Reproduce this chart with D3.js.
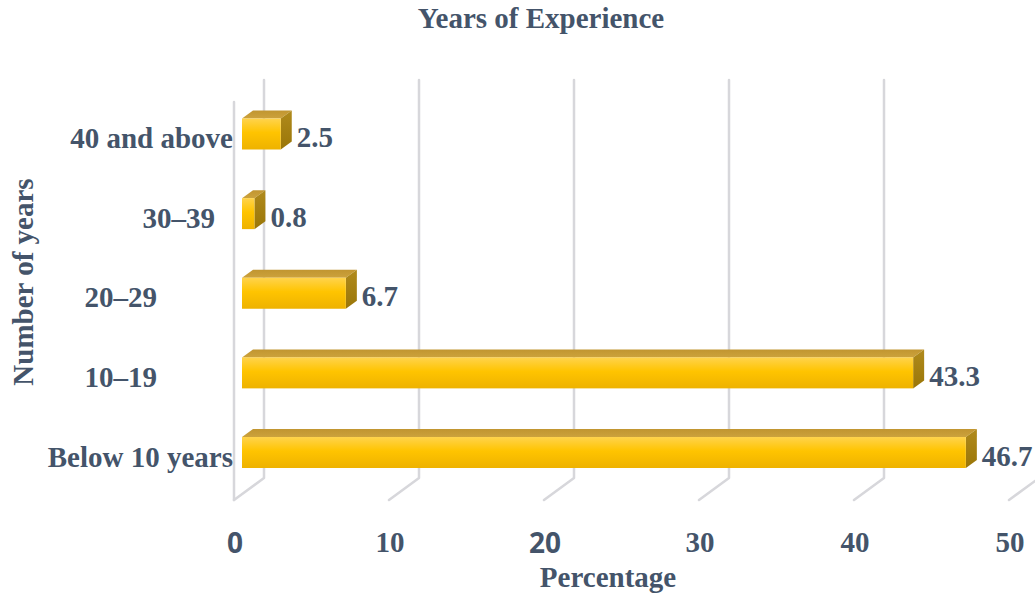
<!DOCTYPE html>
<html>
<head>
<meta charset="utf-8">
<script src="https://cdn.jsdelivr.net/npm/d3@7"></script>
<style>
  html, body { margin: 0; padding: 0; background: #fff; }
  svg { display: block; }
</style>
</head>
<body>
<svg id="chart" width="1035" height="599"></svg>
<script>
// Years of experience, share of respondents (%)
const categories = ["Below 10 years", "10–19", "20–29", "30–39", "40 and above"];
const percentages = [46.7, 43.3, 6.7, 0.8, 2.5];
const tickValues = [0, 10, 20, 30, 40, 50];
const tickLabels = ["0", "10", "20", "30", "40", "50"];

// Right edge of each category label (same order as categories)
const labelRightEdge = [233, 157, 157, 215, 233];
// Tick labels set in the sans face
const sansTicks = new Set([0, 20]);

const TEXT = "#44546a";
const SERIF = "'Liberation Serif', 'Times New Roman', serif";
const SANS = "'Open Sans', 'Noto Sans', sans-serif";

const svg = d3.select("#chart");

// Oblique projection: back wall is shifted right/up from the front plane
const depth = { dx: 30, dy: -22 };
const barDepth = { dx: 11, dy: -8 };
const barInset = 8;

const floorY = 500;     // front edge of the floor
const wallTop = 80;     // top of the back wall

const x = d3.scaleLinear().domain([0, 50]).range([234, 1009]);
const y = d3.scalePoint()
  .domain(categories.slice().reverse())
  .range([134, 452.5]);
const barH = 31;

// ---- gradients
const defs = svg.append("defs");
const gFront = defs.append("linearGradient").attr("id", "barFront")
  .attr("x1", 0).attr("y1", 0).attr("x2", 0).attr("y2", 1);
gFront.append("stop").attr("offset", "0%").attr("stop-color", "#ffd34d");
gFront.append("stop").attr("offset", "45%").attr("stop-color", "#ffc400");
gFront.append("stop").attr("offset", "100%").attr("stop-color", "#eeb200");

const gTop = defs.append("linearGradient").attr("id", "barTop")
  .attr("x1", 0).attr("y1", 0).attr("x2", 0).attr("y2", 1);
gTop.append("stop").attr("offset", "0%").attr("stop-color", "#c19530");
gTop.append("stop").attr("offset", "100%").attr("stop-color", "#cca23c");

const gSide = defs.append("linearGradient").attr("id", "barSide")
  .attr("x1", 0).attr("y1", 0).attr("x2", 0).attr("y2", 1);
gSide.append("stop").attr("offset", "0%").attr("stop-color", "#b08a1c");
gSide.append("stop").attr("offset", "100%").attr("stop-color", "#9a7608");

// ---- walls and gridlines
const grid = svg.append("g")
  .attr("fill", "none")
  .attr("stroke", "#d7d7db")
  .attr("stroke-width", 2.5)
  .attr("stroke-linecap", "round")
  .attr("stroke-linejoin", "round");

grid.selectAll("path.gl")
  .data(tickValues)
  .join("path")
  .attr("class", "gl")
  .attr("d", v => {
    const bx = x(v) + depth.dx;
    const by = floorY + depth.dy;
    return `M${bx},${wallTop}L${bx},${by}L${x(v)},${floorY}`;
  });

// front edge of the side wall
grid.append("path")
  .attr("d", `M${x(0)},${wallTop - depth.dy}L${x(0)},${floorY}`);

// ---- bars
const data = categories.map((c, i) => ({ cat: c, value: percentages[i], right: labelRightEdge[i] }));
const bx = v => x(v) + barInset;

const bars = svg.append("g").selectAll("g.bar")
  .data(data)
  .join("g")
  .attr("class", "bar");

bars.append("path")
  .attr("fill", "url(#barTop)")
  .attr("d", d => {
    const x0 = bx(0), x1 = bx(d.value), yt = y(d.cat) - barH / 2;
    return `M${x0},${yt}L${x0 + barDepth.dx},${yt + barDepth.dy}L${x1 + barDepth.dx},${yt + barDepth.dy}L${x1},${yt}Z`;
  });

bars.append("path")
  .attr("fill", "url(#barSide)")
  .attr("d", d => {
    const x1 = bx(d.value), yt = y(d.cat) - barH / 2, yb = yt + barH;
    return `M${x1},${yt}L${x1 + barDepth.dx},${yt + barDepth.dy}L${x1 + barDepth.dx},${yb + barDepth.dy}L${x1},${yb}Z`;
  });

bars.append("rect")
  .attr("x", bx(0))
  .attr("y", d => y(d.cat) - barH / 2)
  .attr("width", d => bx(d.value) - bx(0))
  .attr("height", barH)
  .attr("fill", "url(#barFront)");

// value labels
bars.append("text")
  .attr("x", d => bx(d.value) + barDepth.dx + 5)
  .attr("y", d => y(d.cat) + 13)
  .attr("font-family", SERIF)
  .attr("font-weight", "bold")
  .attr("font-size", 29)
  .attr("fill", TEXT)
  .text(d => d.value.toFixed(1));

// category labels
svg.append("g").selectAll("text")
  .data(data)
  .join("text")
  .attr("x", d => d.right)
  .attr("y", d => y(d.cat) + 14)
  .attr("text-anchor", "end")
  .attr("font-family", SERIF)
  .attr("font-weight", "bold")
  .attr("font-size", 29)
  .attr("fill", TEXT)
  .text(d => d.cat);

// value axis tick labels
svg.append("g").selectAll("text")
  .data(tickValues)
  .join("text")
  .attr("x", v => x(v) + 1)
  .attr("y", v => sansTicks.has(v) ? 553 : 552)
  .attr("text-anchor", "middle")
  .attr("font-family", v => sansTicks.has(v) ? SANS : SERIF)
  .attr("font-weight", "bold")
  .attr("font-size", v => sansTicks.has(v) ? 28 : 29)
  .attr("fill", TEXT)
  .text((v, i) => tickLabels[i]);

// titles
svg.append("text")
  .attr("x", 541).attr("y", 28)
  .attr("text-anchor", "middle")
  .attr("font-family", SERIF).attr("font-weight", "bold").attr("font-size", 29)
  .attr("fill", TEXT)
  .text("Years of Experience");

svg.append("text")
  .attr("x", 608).attr("y", 587)
  .attr("text-anchor", "middle")
  .attr("font-family", SERIF).attr("font-weight", "bold").attr("font-size", 29)
  .attr("fill", TEXT)
  .text("Percentage");

svg.append("text")
  .attr("transform", "translate(33,282) rotate(-90)")
  .attr("text-anchor", "middle")
  .attr("font-family", SERIF).attr("font-weight", "bold").attr("font-size", 29)
  .attr("fill", TEXT)
  .text("Number of years");
</script>
</body>
</html>
